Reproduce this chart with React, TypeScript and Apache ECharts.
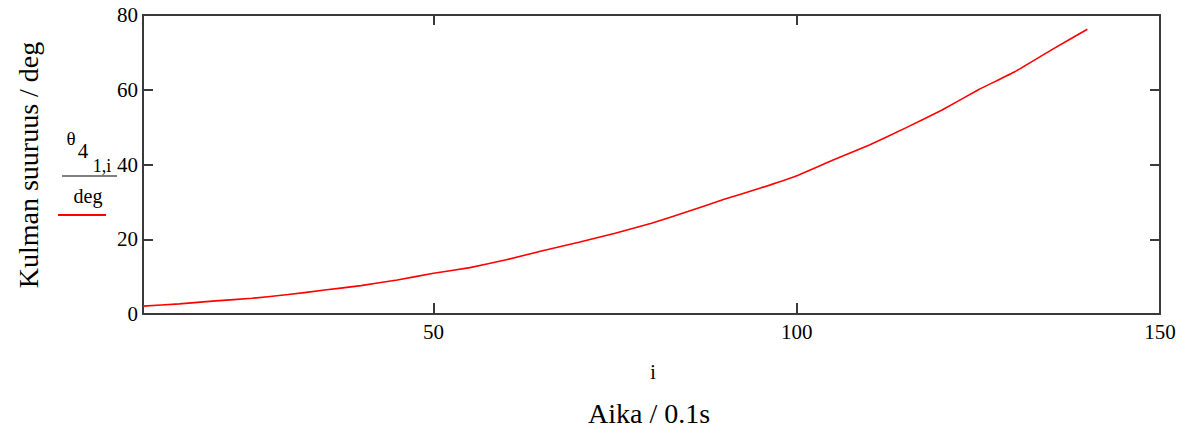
import React, { useEffect, useRef } from "react";
import * as echarts from "echarts";

const xValues = [10, 15, 20, 25, 30, 35, 40, 45, 50, 55, 60, 65, 70, 75, 80, 85, 90, 95, 100, 105, 110, 115, 120, 125, 130, 135, 140];
const thetaValues = [2.1, 2.7, 3.5, 4.2, 5.2, 6.4, 7.6, 9.1, 10.9, 12.4, 14.5, 16.9, 19.2, 21.6, 24.3, 27.4, 30.7, 33.7, 37.0, 41.2, 45.2, 49.8, 54.6, 60.0, 64.8, 70.6, 76.2];
const xTicks = [50, 100, 150];
const yTicks = [0, 20, 40, 60, 80];

const FONT = "'Liberation Serif', 'Times New Roman', serif";
const AXIS_COLOR = "#3a3a3a";

export default function App() {
  const ref = useRef<HTMLDivElement>(null);
  useEffect(() => {
    if (!ref.current) return;
    const chart = echarts.init(ref.current, undefined, { renderer: "svg" });
    const data = xValues.map((x, i) => [x, thetaValues[i]]);
    const axisLine = { show: true, onZero: false, lineStyle: { color: AXIS_COLOR, width: 2 } };
    chart.setOption({
      animation: false,
      backgroundColor: "#ffffff",
      grid: { left: 143, top: 15, right: 38, bottom: 121, containLabel: false },
      xAxis: [
        {
          type: "value",
          position: "bottom",
          min: 10,
          max: 150,
          axisLine,
          axisTick: { show: true, inside: true, length: 11, customValues: xTicks, lineStyle: { color: AXIS_COLOR, width: 2 } },
          axisLabel: { customValues: xTicks, color: "#000", fontFamily: FONT, fontSize: 21, margin: 7 },
          splitLine: { show: false },
        },
        {
          type: "value",
          position: "top",
          min: 10,
          max: 150,
          axisLine,
          axisTick: { show: true, inside: true, length: 10, customValues: xTicks, lineStyle: { color: AXIS_COLOR, width: 2 } },
          axisLabel: { show: false },
          splitLine: { show: false },
        },
      ],
      yAxis: [
        {
          type: "value",
          position: "left",
          min: 0,
          max: 80,
          interval: 20,
          axisLine,
          axisTick: { show: true, inside: true, length: 10, lineStyle: { color: AXIS_COLOR, width: 2 } },
          axisLabel: { customValues: yTicks, color: "#000", fontFamily: FONT, fontSize: 21, margin: 5 },
          splitLine: { show: false },
        },
        {
          type: "value",
          position: "right",
          min: 0,
          max: 80,
          interval: 20,
          axisLine,
          axisTick: { show: true, inside: true, length: 10, lineStyle: { color: AXIS_COLOR, width: 2 } },
          axisLabel: { show: false },
          splitLine: { show: false },
        },
      ],
      series: [
        {
          type: "line",
          data,
          xAxisIndex: 0,
          yAxisIndex: 0,
          showSymbol: false,
          smooth: 0.1,
          lineStyle: { color: "#ff0000", width: 1.6 },
          itemStyle: { color: "#ff0000" },
        },
      ],
      graphic: [
        {
          type: "text",
          x: 28,
          y: 165,
          rotation: Math.PI / 2,
          style: { text: "Kulman suuruus / deg", font: `28px ${FONT}`, fill: "#000", align: "center", verticalAlign: "middle" },
        },
        {
          type: "text",
          x: 653,
          y: 372,
          style: { text: "i", font: `20px ${FONT}`, fill: "#000", align: "center", verticalAlign: "middle" },
        },
        {
          type: "text",
          x: 649,
          y: 413,
          style: { text: "Aika / 0.1s", font: `28px ${FONT}`, fill: "#000", align: "center", verticalAlign: "middle" },
        },
        {
          type: "text",
          x: 71,
          y: 138,
          style: { text: "θ", font: `19px ${FONT}`, fill: "#000", align: "center", verticalAlign: "middle" },
        },
        {
          type: "text",
          x: 83,
          y: 151,
          style: { text: "4", font: `21px ${FONT}`, fill: "#000", align: "center", verticalAlign: "middle" },
        },
        {
          type: "text",
          x: 102,
          y: 166,
          style: { text: "1,i", font: `18px ${FONT}`, fill: "#000", align: "center", verticalAlign: "middle" },
        },
        {
          type: "line",
          shape: { x1: 62, y1: 176, x2: 117, y2: 176 },
          style: { stroke: "#000", lineWidth: 1.2 },
        },
        {
          type: "text",
          x: 88,
          y: 196,
          style: { text: "deg", font: `20px ${FONT}`, fill: "#000", align: "center", verticalAlign: "middle" },
        },
        {
          type: "line",
          shape: { x1: 58, y1: 215, x2: 106, y2: 215 },
          style: { stroke: "#ff0000", lineWidth: 2 },
        },
      ],
    });
    return () => chart.dispose();
  }, []);
  return (
    <div
      ref={ref}
      style={{ position: "fixed", left: 0, top: 0, width: 1198, height: 435, background: "#fff" }}
    />
  );
}
